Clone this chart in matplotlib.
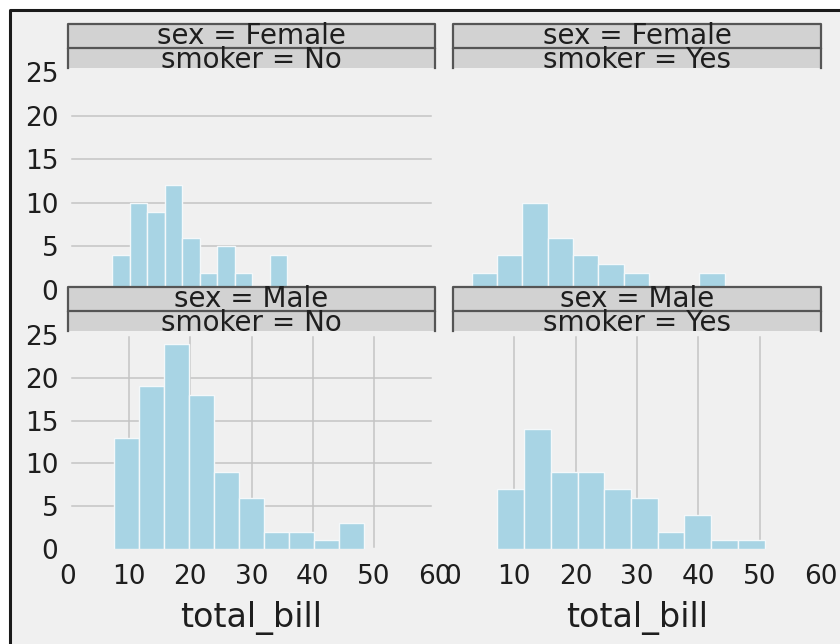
import numpy as np
import matplotlib
matplotlib.use("Agg")
import matplotlib.pyplot as plt
from matplotlib.patches import Rectangle
from matplotlib.lines import Line2D

# total_bill histograms, 10 equal bins between each facet's min and max
female_no_range = (7.25, 35.83)
female_no_counts = [4, 10, 9, 12, 6, 2, 5, 2, 0, 4]
female_yes_range = (3.07, 44.30)
female_yes_counts = [2, 4, 10, 6, 4, 3, 2, 0, 0, 2]
male_no_range = (7.51, 48.33)
male_no_counts = [13, 19, 24, 18, 9, 6, 2, 2, 1, 3]
male_yes_range = (7.25, 50.81)
male_yes_counts = [7, 14, 9, 9, 7, 6, 2, 4, 1, 1]

x_ticks = [0, 10, 20, 30, 40, 50, 60]
y_ticks = [0, 5, 10, 15, 20, 25]

panels = [
    ("Female", "No", female_no_range, female_no_counts),
    ("Female", "Yes", female_yes_range, female_yes_counts),
    ("Male", "No", male_no_range, male_no_counts),
    ("Male", "Yes", male_yes_range, male_yes_counts),
]

W, H = 840, 644
BG = "#f0f0f0"
BAR = "#a8d4e4"
GRID = "#c4c4c4"
TEXT = "#1e1e1e"

fig = plt.figure(figsize=(W / 100, H / 100), dpi=100, facecolor="white")


def fx(x):
    return x / W


def fy(y):
    return 1 - y / H


# background panel with a dark frame on the top and left edges
fig.add_artist(Rectangle((fx(10), 0), 1 - fx(10), fy(10), transform=fig.transFigure,
                         facecolor=BG, edgecolor="none", zorder=-10))
fig.add_artist(Line2D([fx(10), fx(10), 1.01], [-0.01, fy(10), fy(10)], transform=fig.transFigure,
                      color="#1a1a1a", lw=2.2))

col_x = [(68, 435), (453, 821)]
row_y = [(72, 290), (335, 549)]


def strip(x0, x1, top, bottom, label, baseline):
    fig.add_artist(Rectangle((fx(x0), fy(bottom)), fx(x1 - x0), (bottom - top) / H,
                             transform=fig.transFigure, facecolor="#d2d2d2",
                             edgecolor="none", zorder=2))
    fig.add_artist(Line2D([fx(x0), fx(x0), fx(x1), fx(x1)],
                          [fy(bottom), fy(top), fy(top), fy(bottom)],
                          transform=fig.transFigure, color="#555555", lw=1.6, zorder=3))
    fig.text(fx((x0 + x1) / 2), fy(baseline), label, ha="center", va="baseline",
             fontsize=20, color=TEXT, zorder=4)


for i, (sex, smoker, rng, counts) in enumerate(panels):
    r, c = divmod(i, 2)
    x0, x1 = col_x[c]
    t, b = row_y[r]
    ax = fig.add_axes([fx(x0), fy(b), fx(x1 - x0), (b - t) / H])
    ax.set_facecolor(BG)
    ax.patch.set_alpha(0)
    for s in ax.spines.values():
        s.set_visible(False)

    edges = np.linspace(rng[0], rng[1], len(counts) + 1)
    ax.bar(edges[:-1], counts, width=np.diff(edges), align="edge",
           color=BAR, edgecolor="#f4f8fa", linewidth=1.0, zorder=2)

    # left column keeps horizontal grid, bottom row keeps vertical grid
    if c == 0:
        for v in y_ticks[1:-1]:
            ax.axhline(v, xmin=0.01, xmax=0.99, color=GRID, lw=1.1, zorder=1)
    if r == 1:
        for v in x_ticks[1:-1]:
            ax.axvline(v, ymin=0.01, ymax=0.99, color=GRID, lw=1.1, zorder=1)

    ax.set_xlim(0, 60)
    ax.set_ylim(0, 25)
    ax.set_xticks(x_ticks)
    ax.set_yticks(y_ticks)
    ax.tick_params(length=0, labelsize=19, labelcolor=TEXT)
    ax.tick_params(axis="x", pad=11)
    ax.tick_params(axis="y", pad=7)
    if r == 0:
        ax.tick_params(axis="x", labelbottom=False)
    else:
        ax.set_xlabel("total_bill", fontsize=24, color=TEXT, labelpad=8)
    if c == 1:
        ax.tick_params(axis="y", labelleft=False)

    strip(x0, x1, t - 48, t - 24, "sex = %s" % sex, t - 28)
    strip(x0, x1, t - 24, t - 4, "smoker = %s" % smoker, t - 4)

fig.savefig("out.png", dpi=100, facecolor="white")
